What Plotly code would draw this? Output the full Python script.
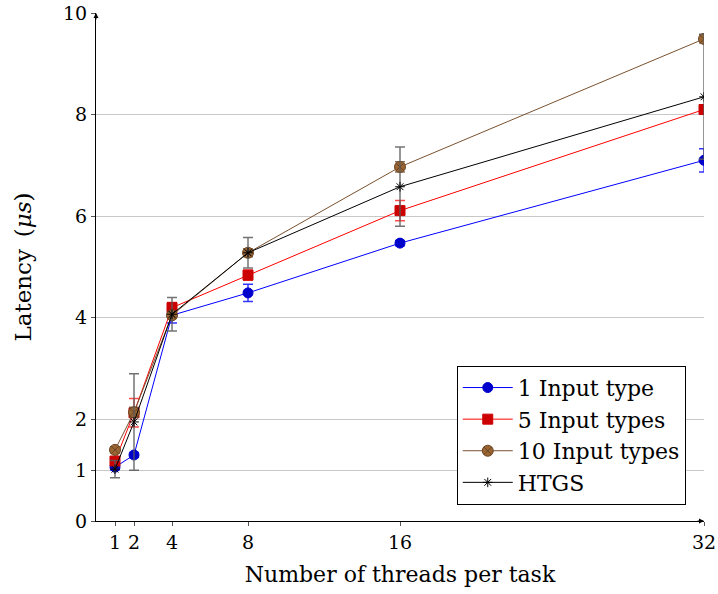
import plotly.graph_objects as go

threads = [1, 2, 4, 8, 16, 32]
x_ticks = [1, 2, 4, 8, 16, 32]
y_ticks = [0, 1, 2, 4, 6, 8, 10]

one_type = [1.06, 1.30, 4.05, 4.49, 5.47, 7.10]
one_type_err = [0.05, 0.05, 0.15, 0.17, 0.05, 0.23]

five_types = [1.18, 2.13, 4.20, 4.84, 6.11, 8.10]
five_types_err = [0.06, 0.28, 0.10, 0.10, 0.20, 0.08]

ten_types = [1.40, 2.14, 4.05, 5.28, 6.97, 9.49]
ten_types_err = [0.06, 0.10, 0.06, 0.08, 0.10, 0.08]

htgs = [1.02, 1.95, 4.07, 5.28, 6.58, 8.35]
htgs_err = [0.17, 0.95, 0.33, 0.30, 0.78, 1.23]

FONT = "DejaVu Serif"

fig = go.Figure()

series = [
    ("1 Input type", one_type, one_type_err, "#0000ff", "#0000cc", "circle", 10, "rgba(0,0,255,0.8)"),
    ("5 Input types", five_types, five_types_err, "#ff0000", "#cc0000", "square", 10, "rgba(255,0,0,0.7)"),
    ("10 Input types", ten_types, ten_types_err, "#7a5230", "#996633", "circle-x", 11, "rgba(110,80,50,0.8)"),
    ("HTGS", htgs, htgs_err, "#000000", "#000000", "asterisk-open", 8, "rgba(90,90,90,0.85)"),
]

for name, ys, errs, lc, mc, sym, sz, ec in series:
    fig.add_trace(go.Scatter(
        x=threads, y=ys, name=name, mode="lines+markers",
        line=dict(color=lc, width=1),
        marker=dict(symbol=sym, size=sz, color=mc,
                    line=dict(color=mc if sym != "circle-x" else "#6b4422", width=1)),
        error_y=dict(type="data", array=errs, visible=True, color=ec,
                     thickness=1.5, width=5),
    ))

fig.update_layout(
    width=718, height=594,
    margin=dict(l=96, r=14, t=13, b=73),
    plot_bgcolor="white", paper_bgcolor="white",
    font=dict(family=FONT, size=20, color="black"),
    showlegend=True,
    legend=dict(x=0.970, y=0.032, xanchor="right", yanchor="bottom",
                bordercolor="black", borderwidth=1, bgcolor="white",
                font=dict(family=FONT, size=22), tracegroupgap=0,
                itemwidth=50),
    xaxis=dict(range=[0, 32], tickvals=x_ticks, ticktext=[str(v) for v in x_ticks],
               automargin=False,
               showgrid=False, zeroline=False, showline=True, linecolor="black",
               linewidth=1, ticks="outside", ticklen=4, tickcolor="#555",
               tickfont=dict(family=FONT, size=19),
               title=dict(text="Number of threads per task", font=dict(family=FONT, size=22),
                          standoff=14)),
    yaxis=dict(range=[0, 10], tickvals=y_ticks, ticktext=[str(v) for v in y_ticks],
               automargin=False,
               showgrid=True, gridcolor="#c8c8c8", gridwidth=1, zeroline=False,
               showline=True, linecolor="black", linewidth=1,
               ticks="outside", ticklen=4, tickcolor="#555",
               tickfont=dict(family=FONT, size=19),
               title=dict(text="Latency \u2009(<i>μs</i>)", font=dict(family=FONT, size=23),
                          standoff=24)),
)

# axis arrow heads
fig.add_annotation(x=1.0, y=0, xref="paper", yref="paper", ax=-8, ay=0,
                   text="", showarrow=True,
                   arrowhead=2, arrowsize=1, arrowwidth=1, arrowcolor="black")
fig.add_annotation(x=0, y=1.0, xref="paper", yref="paper", ax=0, ay=8,
                   text="", showarrow=True,
                   arrowhead=2, arrowsize=1, arrowwidth=1, arrowcolor="black")

# remove the default 8px page margin so the figure sits at the window origin
fig.write_html("out.html", config={"displayModeBar": False},
               post_script="document.body.style.margin='0';document.body.style.overflow='hidden';")
